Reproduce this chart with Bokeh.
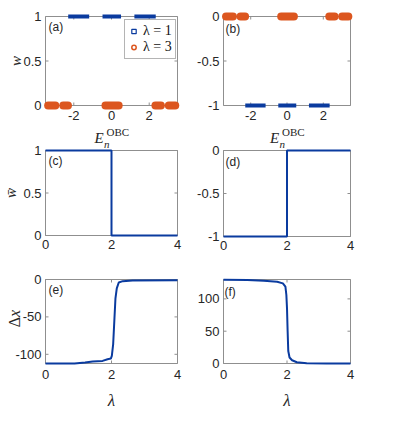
import math
from bokeh.plotting import figure
from bokeh.models import (Range1d, FixedTicker, Label, Legend, LegendItem,
                          LinearAxis, CustomJSTickFormatter)
from bokeh.embed import file_html
from bokeh.resources import INLINE

# ---------------- data ----------------
E_lim = [-3.5, 3.5]
lam_lim = [0, 4]
w_lim_a = [0, 1]
w_lim_b = [-1, 0]
dx_lim_e = [-112.3, 0]
dx_lim_f = [0, 130]

E_ticks = [-2, 0, 2]
lam_ticks = [0, 2, 4]
w_ticks_a = [0, 0.5, 1]
w_ticks_b = [-1, -0.5, 0]
dx_ticks_e = [-100, -50, 0]
dx_ticks_f = [0, 50, 100]

# eigenvalue clusters E_n^OBC (first / last eigenvalue of each dense cluster)
lam1_E_lo = [-2.19, -0.37, 1.32]
lam1_E_hi = [-1.29, 0.40, 2.24]
lam3_E_lo = [-3.36, -2.56, -0.32, 2.33, 3.04]
lam3_E_hi = [-2.98, -2.31, 0.38, 2.62, 3.38]
w_a = [1, 0]      # winding number (lambda=1, lambda=3), panel (a)
w_b = [-1, 0]     # panel (b)

lam_cd = [0, 2, 2, 4]
wbar_c = [1, 1, 0, 0]
wbar_d = [-1, -1, 0, 0]

lam_e = [0, 0.88, 1.2, 1.43, 1.73, 1.88, 1.98, 2.01, 2.05, 2.09, 2.12, 2.16, 2.22, 2.34, 2.64, 4.0]
dx_e = [-112.3, -112.3, -111.0, -109.6, -108.8, -106.6, -105.7, -102.2, -86.8, -51.5, -25.1, -11.9, -4.0, -2.2, -1.3, -0.9]

lam_f = [0, 0.75, 1.27, 1.69, 1.87, 1.95, 1.98, 2.0, 2.02, 2.04, 2.08, 2.16, 2.31, 2.62, 3.25, 4.0]
dx_f = [129.6, 129.1, 128.1, 126.5, 124.0, 118.9, 106.0, 85.7, 50.0, 19.3, 9.2, 5.1, 2.0, 0.5, 0.1, 0.0]

# ---------------- style ----------------
BLUE = "#0a3b9f"
ORANGE = "#dc561f"
BOX = "#8f8f8f"
TXT = "#262626"
SANS = "Liberation Sans"
SERIF = "Liberation Serif"

CX, CY, CW, CH = 8, 8, 381, 420     # canvas position on the page
TICK = 3

# panel name -> (box on page: left, top, right, bottom), x limits, y limits
PANELS = {
    "a": ((53, 24, 185, 113), E_lim, w_lim_a),
    "b": ((231, 24, 358, 113), E_lim, w_lim_b),
    "c": ((53, 158, 185, 243), lam_lim, w_lim_a),
    "d": ((231, 158, 358, 244), lam_lim, w_lim_b),
    "e": ((53, 287, 185, 371), lam_lim, dx_lim_e),
    "f": ((231, 287, 358, 371), lam_lim, dx_lim_f),
}

xr, yr, K = {}, {}, {}
for name, (box, xlim, ylim) in PANELS.items():
    bl, bt, br, bb = box
    kx = (xlim[1] - xlim[0]) / (br - bl)
    ky = (ylim[1] - ylim[0]) / (bb - bt)
    K[name] = (kx, ky)
    xr[name] = Range1d(xlim[0] - (bl - CX) * kx, xlim[1] + (CX + CW - br) * kx)
    yr[name] = Range1d(ylim[0] - (CY + CH - bb) * ky, ylim[1] + (bt - CY) * ky)

p = figure(width=CW, height=CH, output_backend="svg", toolbar_location=None, tools="",
           x_range=Range1d(0, 1), y_range=Range1d(0, 1),
           x_axis_type=None, y_axis_type=None,
           min_border_left=0, min_border_right=0, min_border_top=0, min_border_bottom=0)
p.extra_x_ranges = xr
p.extra_y_ranges = yr
p.outline_line_color = None
p.grid.visible = False
p.background_fill_color = "white"
p.border_fill_color = "white"

fmt = CustomJSTickFormatter(code="return tick.toString();")


def setup_panel(name, xticks, yticks, xstand, ystand):
    box, xlim, ylim = PANELS[name]
    kx, ky = K[name]
    common = dict(x_range_name=name, y_range_name=name, formatter=fmt,
                  axis_line_color=None, minor_tick_line_color=None,
                  major_tick_out=0, major_tick_in=0, major_tick_line_color=None,
                  major_label_text_font=SANS, major_label_text_font_size="13px",
                  major_label_text_color=TXT)
    xa = LinearAxis(fixed_location=ylim[0], ticker=FixedTicker(ticks=xticks),
                    major_label_standoff=xstand, **common)
    ya = LinearAxis(fixed_location=xlim[0], ticker=FixedTicker(ticks=yticks),
                    major_label_standoff=ystand, **common)
    p.add_layout(xa, "below")
    p.add_layout(ya, "left")
    rng = dict(x_range_name=name, y_range_name=name)
    # axes box
    p.quad(left=[xlim[0]], right=[xlim[1]], bottom=[ylim[0]], top=[ylim[1]],
           fill_color=None, line_color=BOX, line_width=1, **rng)
    # inward ticks on all four edges (drawn beneath the data)
    ny, nx = len(yticks), len(xticks)
    p.segment(x0=[xlim[0]] * ny, x1=[xlim[0] + TICK * kx] * ny, y0=yticks, y1=yticks,
              line_color=BOX, line_width=1, **rng)
    p.segment(x0=[xlim[1]] * ny, x1=[xlim[1] - TICK * kx] * ny, y0=yticks, y1=yticks,
              line_color=BOX, line_width=1, **rng)
    p.segment(x0=xticks, x1=xticks, y0=[ylim[0]] * nx, y1=[ylim[0] + TICK * ky] * nx,
              line_color=BOX, line_width=1, **rng)
    p.segment(x0=xticks, x1=xticks, y0=[ylim[1]] * nx, y1=[ylim[1] - TICK * ky] * nx,
              line_color=BOX, line_width=1, **rng)


def label(name, x, y, text, **kw):
    opts = dict(text_color=TXT, text_baseline="alphabetic", text_align="left")
    opts.update(kw)
    p.add_layout(Label(x=x, y=y, text=text, x_range_name=name, y_range_name=name, **opts))


def panel_letter(name, text, dx=3, dy=-3):
    box, xlim, ylim = PANELS[name]
    label(name, xlim[0], ylim[1], text, x_offset=dx, y_offset=dy, text_baseline="top",
          text_font=SANS, text_font_size="12px")


def e_label(name):
    box, xlim, ylim = PANELS[name]
    xc = (xlim[0] + xlim[1]) / 2
    label(name, xc, ylim[0], "E", x_offset=-17, y_offset=-32, text_font=SERIF,
          text_font_style="italic", text_font_size="15px")
    label(name, xc, ylim[0], "n", x_offset=-7.5, y_offset=-38.5, text_font=SERIF,
          text_font_style="italic", text_font_size="11px")
    label(name, xc, ylim[0], "OBC", x_offset=-5, y_offset=-26.3, text_font=SERIF,
          text_font_size="11px")


def lam_label(name):
    box, xlim, ylim = PANELS[name]
    xc = (xlim[0] + xlim[1]) / 2
    label(name, xc, ylim[0], "λ", y_offset=-36.7, text_align="center", text_font=SERIF,
          text_font_style="italic", text_font_size="17px")


def y_title(name, text, xoff, yoff=0, align="center", style="italic", size="15px"):
    box, xlim, ylim = PANELS[name]
    yc = (ylim[0] + ylim[1]) / 2
    label(name, xlim[0], yc, text, x_offset=xoff, y_offset=yoff, angle=math.pi / 2,
          text_align=align, text_font=SERIF, text_font_style=style, text_font_size=size)


# ---------------- panel (a) ----------------
setup_panel("a", E_ticks, w_ticks_a, 5, 4)
p.segment(x0=lam3_E_lo, x1=lam3_E_hi, y0=[w_a[1]] * len(lam3_E_lo), y1=[w_a[1]] * len(lam3_E_lo),
          line_color=ORANGE, line_width=8, line_cap="round", x_range_name="a", y_range_name="a")
p.segment(x0=lam1_E_lo, x1=lam1_E_hi, y0=[w_a[0]] * len(lam1_E_lo), y1=[w_a[0]] * len(lam1_E_lo),
          line_color=BLUE, line_width=4, line_cap="square", x_range_name="a", y_range_name="a")
nan = float("nan")
leg1 = p.scatter(x=[nan], y=[nan], marker="square", size=5, line_color=BLUE,
                 fill_color="white", line_width=1.2, x_range_name="a", y_range_name="a")
leg3 = p.scatter(x=[nan], y=[nan], marker="circle", size=6, line_color=ORANGE,
                 fill_color="white", line_width=1.5, x_range_name="a", y_range_name="a")
legend = Legend(items=[LegendItem(label="λ = 1", renderers=[leg1]),
                       LegendItem(label="λ = 3", renderers=[leg3])],
                location=(124, 361), margin=0, padding=3, spacing=0,
                glyph_width=11, glyph_height=14, label_height=14, label_standoff=4,
                label_text_font=SERIF, label_text_font_size="14px", label_text_color="#111111",
                border_line_color="#6a6a6a", border_line_width=1,
                background_fill_color="white", background_fill_alpha=1)
p.add_layout(legend)
panel_letter("a", "(a)")
e_label("a")
y_title("a", "w", -29.5)

# ---------------- panel (b) ----------------
setup_panel("b", E_ticks, w_ticks_b, 5, 4)
p.segment(x0=lam3_E_lo, x1=lam3_E_hi, y0=[w_b[1]] * len(lam3_E_lo), y1=[w_b[1]] * len(lam3_E_lo),
          line_color=ORANGE, line_width=8, line_cap="round", x_range_name="b", y_range_name="b")
p.segment(x0=lam1_E_lo, x1=lam1_E_hi, y0=[w_b[0]] * len(lam1_E_lo), y1=[w_b[0]] * len(lam1_E_lo),
          line_color=BLUE, line_width=4, line_cap="square", x_range_name="b", y_range_name="b")
panel_letter("b", "(b)", dx=2, dy=-5)
e_label("b")

# ---------------- panel (c) ----------------
setup_panel("c", lam_ticks, w_ticks_a, 4, 4)
p.line(lam_cd, wbar_c, line_color=BLUE, line_width=2, x_range_name="c", y_range_name="c")
panel_letter("c", "(c)")
y_title("c", "w\u0304", -34.5)

# ---------------- panel (d) ----------------
setup_panel("d", lam_ticks, w_ticks_b, 4, 4)
p.line(lam_cd, wbar_d, line_color=BLUE, line_width=2, x_range_name="d", y_range_name="d")
panel_letter("d", "(d)", dx=2, dy=-4)

# ---------------- panel (e) ----------------
setup_panel("e", lam_ticks, dx_ticks_e, 6, 4)
p.line(lam_e, dx_e, line_color=BLUE, line_width=2, x_range_name="e", y_range_name="e")
panel_letter("e", "(e)")
y_title("e", "Δ", -31.3, yoff=4.5, align="right", style="normal", size="16px")
y_title("e", "x", -31.3, yoff=4.5, align="left", style="italic", size="16px")
lam_label("e")

# ---------------- panel (f) ----------------
setup_panel("f", lam_ticks, dx_ticks_f, 6, 4)
p.line(lam_f, dx_f, line_color=BLUE, line_width=2, x_range_name="f", y_range_name="f")
panel_letter("f", "(f)", dx=1, dy=-5)
lam_label("f")

open("out.html", "w").write(file_html(p, INLINE))
